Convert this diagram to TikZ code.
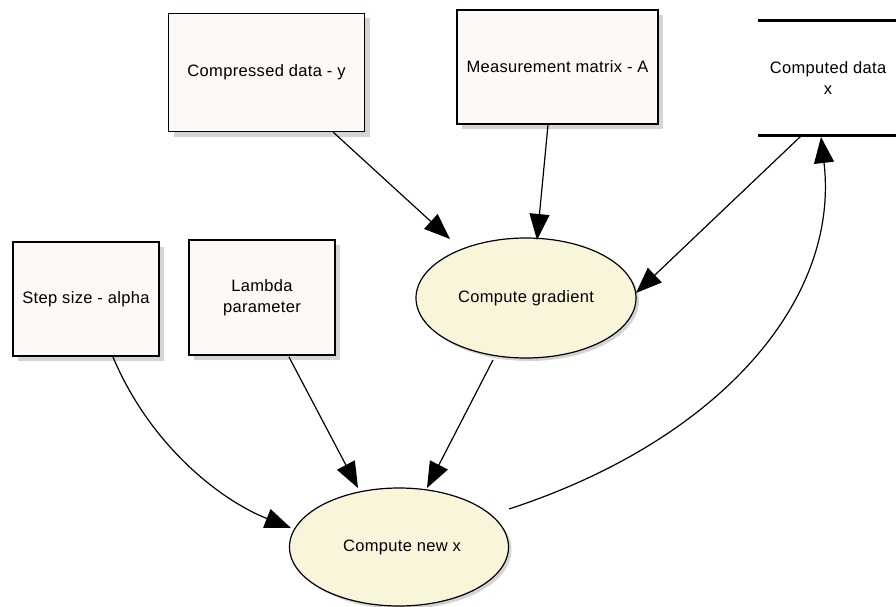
\documentclass[tikz,border=0pt]{standalone}
\usepackage{fontspec}
\setmainfont{Liberation Sans}[LetterSpace=2]
\usetikzlibrary{arrows.meta,shadows,shapes.geometric}
\definecolor{boxfill}{RGB}{253,249,246}
\definecolor{procfill}{RGB}{249,245,218}
\definecolor{shadowgrey}{RGB}{212,212,212}
\begin{document}
\begin{tikzpicture}[x=1pt,y=-1pt,
  txt/.style={font=\fontsize{16.5}{21}\selectfont, align=center},
  entity/.style={draw=black, line width=1.2pt, fill=boxfill, rectangle, inner sep=0pt,
    drop shadow={shadow xshift=5pt, shadow yshift=-5pt, fill=shadowgrey, opacity=1}, txt},
  process/.style={draw=black, line width=1.2pt, fill=procfill, ellipse, inner sep=0pt,
    drop shadow={shadow xshift=3pt, shadow yshift=-3pt, fill=shadowgrey, opacity=1}, txt},
  flow/.style={draw=black, line width=1.2pt, -{Triangle[length=26pt,width=20pt]}},
  storeline/.style={line width=3pt}
]
\useasboundingbox (0,0) rectangle (896,607);

% external entities
\node[entity, minimum width=196pt, minimum height=118pt] (cy) at (266.5,72.5) {Compressed data - y};
\node[entity, minimum width=201pt, minimum height=114pt] (ma) at (557.5,67) {Measurement matrix - A};
\node[entity, minimum width=146pt, minimum height=114pt] (ss) at (86,299) {Step size - alpha};
\node[entity, minimum width=146pt, minimum height=115pt] (lp) at (262,297.5) {Lambda\\parameter};

% data store
\coordinate (dsTL) at (758,21);
\coordinate (dsTR) at (896,21);
\coordinate (dsBL) at (758,135);
\coordinate (dsBR) at (896,135);
\draw[storeline] (dsTL) -- (dsTR);
\draw[storeline] (dsBL) -- (dsBR);
\node[txt, inner sep=0pt] (cd) at (828,78) {Computed data\\x};

% processes
\node[process, minimum width=220pt, minimum height=120pt] (cg) at (526,298) {Compute gradient};
\node[process, minimum width=219pt, minimum height=118pt] (cn) at (399,547) {\hspace*{6pt}Compute new x};

% flows
\coordinate (cyOut) at (333,132);
\coordinate (cgInY) at (450,239);
\draw[flow] (cyOut) -- (cgInY);

\coordinate (maOut) at (548,125);
\coordinate (cgInA) at (537,240);
\draw[flow] (maOut) -- (cgInA);

\coordinate (dsOut) at (801,136);
\coordinate (cgInX) at (636,293);
\draw[flow] (dsOut) -- (cgInX);

\coordinate (ssOut) at (113,357);
\coordinate (cnInS) at (291,528);
\draw[flow] (ssOut) .. controls (150,445) and (220,500) .. (cnInS);

\coordinate (lpOut) at (289,357);
\coordinate (cnInL) at (358,488);
\draw[flow] (lpOut) -- (cnInL);

\coordinate (cgOut) at (493,360);
\coordinate (cnInG) at (427,488);
\draw[flow] (cgOut) -- (cnInG);

\coordinate (cnOut) at (509,509);
\coordinate (dsIn) at (821,137);
\draw[flow] (cnOut) .. controls (720,440) and (840,300) .. (dsIn);
\end{tikzpicture}
\end{document}
